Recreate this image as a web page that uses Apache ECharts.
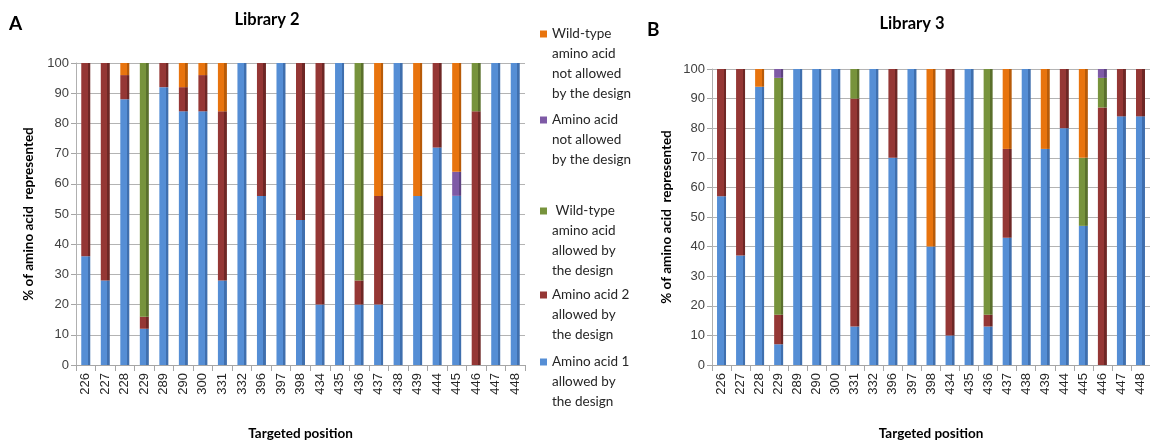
<!DOCTYPE html>
<html>
<head>
<meta charset="utf-8">
<script src="https://cdn.jsdelivr.net/npm/echarts@6/dist/echarts.min.js"></script>
<style>
html,body{margin:0;padding:0;background:#fff;}
#chart{width:1150px;height:446px;}
</style>
</head>
<body>
<div id="chart"></div>
<script>
// ---- data ----
var categories = ['226','227','228','229','289','290','300','331','332','396','397','398','434','435','436','437','438','439','444','445','446','447','448'];
var yTicks = [0,10,20,30,40,50,60,70,80,90,100];

var seriesNames = [
  'Amino acid 1 allowed by the design',
  'Amino acid 2 allowed by the design',
  'Wild-type amino acid allowed by the design',
  'Amino acid not allowed by the design',
  'Wild-type amino acid not allowed by the design'
];

// Library 2
var lib2_aa1       = [36,28,88,12,92,84,84,28,100,56,100,48,20,100,20,20,100,56,72,56,0,100,100];
var lib2_aa2       = [64,72,8,4,8,8,12,56,0,44,0,52,80,0,8,36,0,0,28,0,84,0,0];
var lib2_wtAllowed = [0,0,0,84,0,0,0,0,0,0,0,0,0,0,72,0,0,0,0,0,16,0,0];
var lib2_notAllow  = [0,0,0,0,0,0,0,0,0,0,0,0,0,0,0,0,0,0,0,8,0,0,0];
var lib2_wtNotAll  = [0,0,4,0,0,8,4,16,0,0,0,0,0,0,0,44,0,44,0,36,0,0,0];

// Library 3
var lib3_aa1       = [57,37,94,7,100,100,100,13,100,70,100,40,10,100,13,43,100,73,80,47,0,84,84];
var lib3_aa2       = [43,63,0,10,0,0,0,77,0,30,0,0,90,0,4,30,0,0,20,0,87,16,16];
var lib3_wtAllowed = [0,0,0,80,0,0,0,10,0,0,0,0,0,0,83,0,0,0,0,23,10,0,0];
var lib3_notAllow  = [0,0,0,3,0,0,0,0,0,0,0,0,0,0,0,0,0,0,0,0,3,0,0];
var lib3_wtNotAll  = [0,0,6,0,0,0,0,0,0,0,0,60,0,0,0,27,0,27,0,30,0,0,0];

var legendLabels = [
  'Amino acid 1\nallowed by\nthe design',
  'Amino acid 2\nallowed by\nthe design',
  ' Wild-type\namino acid\nallowed by\nthe design',
  'Amino acid\nnot allowed\nby the design',
  'Wild-type\namino acid\nnot allowed\nby the design'
];

// ---- styles ----
var baseColors = ['#558ED5','#953735','#77933C','#7E5AA6','#E8740E'];
var darkColors = ['#3F6FAE','#6E2725','#5A702C','#5E4280','#B85B08'];

function barColor(i){
  return {type:'linear',x:0,y:0,x2:1,y2:0,colorStops:[
    {offset:0,color:baseColors[i]},{offset:0.72,color:baseColors[i]},
    {offset:0.72,color:darkColors[i]},{offset:1,color:darkColors[i]}]};
}

var FONT = 'Lato';
var lib2 = [lib2_aa1,lib2_aa2,lib2_wtAllowed,lib2_notAllow,lib2_wtNotAll];
var lib3 = [lib3_aa1,lib3_aa2,lib3_wtAllowed,lib3_notAllow,lib3_wtNotAll];

var series = [];
[lib2, lib3].forEach(function(lib, g){
  lib.forEach(function(vals, i){
    series.push({
      name: seriesNames[i], type:'bar', stack: 'lib'+g,
      xAxisIndex: g, yAxisIndex: g, barWidth: 9,
      itemStyle: {color: barColor(i)},
      data: vals
    });
  });
});

function xAxis(g){
  return {
    type:'category', gridIndex:g, data:categories,
    name:'Targeted position', nameLocation:'middle', nameGap:62,
    nameTextStyle:{fontFamily:FONT,fontWeight:'bold',fontSize:13.5,color:'#000'},
    axisLine:{lineStyle:{color:'#a6a6a6'}},
    axisTick:{show:true,interval:0,length:6,lineStyle:{color:'#a6a6a6'}},
    axisLabel:{interval:0,rotate:90,fontFamily:'Liberation Sans',fontSize:13,color:'#262626',margin:8},
    splitLine:{show:false}
  };
}
function yAxis(g){
  return {
    type:'value', gridIndex:g, min:0, max:100, interval:10,
    name:'% of amino acid  represented', nameLocation:'middle', nameGap: g===0?40:38,
    nameTextStyle:{fontFamily:FONT,fontWeight:'bold',fontSize:13.5,color:'#000'},
    axisLine:{show:true,lineStyle:{color:'#b0b0b0'}},
    axisTick:{show:true,length:5,lineStyle:{color:'#a6a6a6'}},
    axisLabel:{fontFamily:'Liberation Sans',fontSize:13,color:'#404040',margin:7,
      formatter:function(v){return yTicks.indexOf(v)>=0?String(v):'';}},
    splitLine:{show:true,lineStyle:{color:'#b3b3b3',width:1}}
  };
}

// legend: one component per item so spacing can follow the reference.
// Blank lines above the text keep the icon level with the first text line.
var legendOrder = [4,3,2,1,0];
var legendTops = [-36,70,141,245,312];
var legends = legendOrder.map(function(si, k){
  var lines = legendLabels[si].split('\n');
  var pad = [];
  for (var j = 0; j < lines.length - 1; j++) pad.push(' ');
  var txt = pad.concat(lines).join('\n');
  return {
    left:540, top:legendTops[k], padding:0, orient:'vertical',
    data:[{name:seriesNames[si], itemStyle:{color:baseColors[si]}}],
    itemWidth:7, itemHeight:7, itemGap:0, icon:'rect',
    formatter:function(){return txt;},
    textStyle:{fontFamily:FONT,fontSize:13.5,lineHeight:20,color:'#262626'}
  };
});

var option = {
  animation:false,
  backgroundColor:'#fff',
  title:[
    {text:'A',left:9,top:14,padding:0,textStyle:{fontFamily:FONT,fontWeight:'bold',fontSize:19,color:'#000'}},
    {text:'Library 2',left:267,top:11,padding:0,textAlign:'center',textStyle:{fontFamily:FONT,fontWeight:'bold',fontSize:16.5,color:'#000'}},
    {text:'B',left:647,top:20,padding:0,textStyle:{fontFamily:FONT,fontWeight:'bold',fontSize:19,color:'#000'}},
    {text:'Library 3',left:912,top:15,padding:0,textAlign:'center',textStyle:{fontFamily:FONT,fontWeight:'bold',fontSize:16.5,color:'#000'}}
  ],
  legend: legends,
  grid:[
    {left:76, top:63, width:449, height:308},
    {left:712, top:69, width:445, height:303}
  ],
  xAxis:[xAxis(0), xAxis(1)],
  yAxis:[yAxis(0), yAxis(1)],
  series: series
};

var chart = echarts.init(document.getElementById('chart'), null, {renderer:'canvas'});
chart.setOption(option);
</script>
</body>
</html>
